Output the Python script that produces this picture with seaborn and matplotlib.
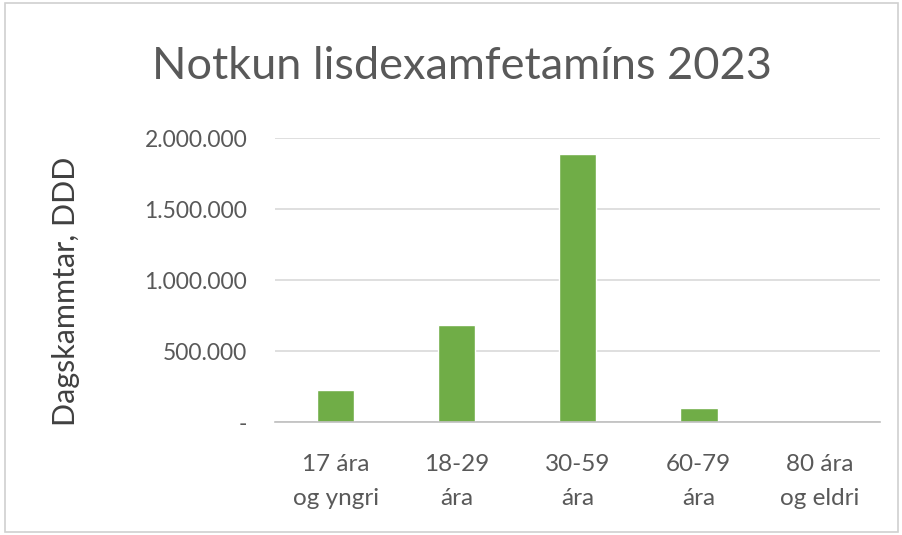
import matplotlib
matplotlib.use("Agg")
import matplotlib.pyplot as plt
from matplotlib.ticker import FuncFormatter
import seaborn as sns
import pandas as pd

# Data
age_groups = ["17 ára\nog yngri", "18-29\nára", "30-59\nára", "60-79\nára", "80 ára\nog eldri"]
ddd_values = [225000, 683000, 1885000, 98000, 2000]
y_ticks = [0, 500000, 1000000, 1500000, 2000000]

title = "Notkun lisdexamfetamíns 2023"
y_label = "Dagskammtar, DDD"

sns.set_theme(style="white")
plt.rcParams['font.family'] = ['Lato', 'DejaVu Sans']

df = pd.DataFrame({"age": age_groups, "ddd": ddd_values})

fig = plt.figure(figsize=(9.02, 5.35), dpi=100)
ax = fig.add_axes([0.305, 0.211, 0.671, 0.531])

sns.barplot(data=df, x="age", y="ddd", color="#70AD47", saturation=1,
            width=0.31, ax=ax)

ax.set_ylim(0, 2000000)
ax.set_yticks(y_ticks)


def thousands(v, pos):
    if v == 0:
        return "-"
    return f"{int(v):,}".replace(",", ".")


ax.yaxis.set_major_formatter(FuncFormatter(thousands))
ax.yaxis.grid(True, color="#D9D9D9", linewidth=1.2)
ax.set_axisbelow(True)

for side in ["top", "right", "left"]:
    ax.spines[side].set_visible(False)
ax.spines["bottom"].set_color("#BFBFBF")
ax.spines["bottom"].set_linewidth(1.2)

ax.tick_params(axis="y", length=0, labelsize=16.5, labelcolor="#595959", pad=20)
ax.tick_params(axis="x", length=0, labelsize=17.5, labelcolor="#595959", pad=23)
for lbl in ax.get_xticklabels():
    lbl.set_linespacing(1.75)

ax.set_xlabel("")
ax.set_ylabel(y_label, fontsize=22, color="#404040")
ax.yaxis.set_label_coords(-0.322, 0.46)

fig.text(0.512, 0.875, title, ha="center", va="center", fontsize=32.5, color="#595959")

# light frame around the chart area
fig.patches.append(plt.Rectangle((0.006, 0.006), 0.99, 0.988, transform=fig.transFigure,
                                 fill=False, edgecolor="#D0D0D0", linewidth=1.2))

fig.savefig("out.png", dpi=100)
